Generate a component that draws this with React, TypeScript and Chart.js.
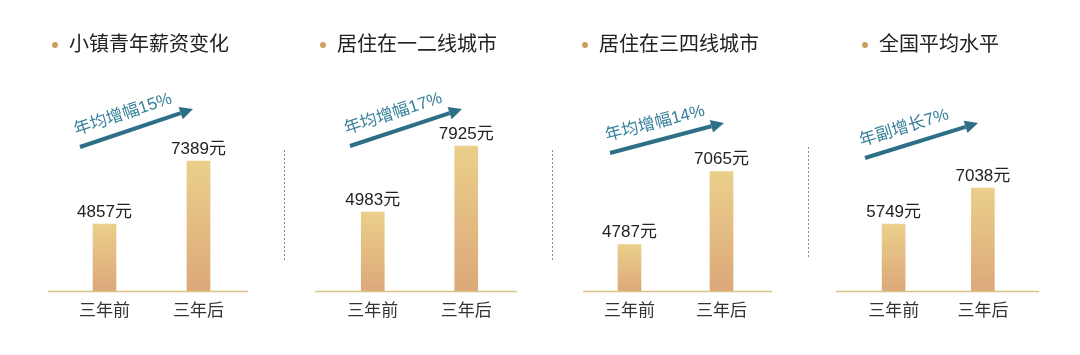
import { useEffect, useRef } from "react";
import { Chart, registerables } from "chart.js";

Chart.register(...registerables);

// ---------- data ----------
const categories = ["三年前", "三年后"];
const panelTitles = ["小镇青年薪资变化", "居住在一二线城市", "居住在三四线城市", "全国平均水平"];
const growthLabels = ["年均增幅15%", "年均增幅17%", "年均增幅14%", "年副增长7%"];
const townSalary = [4857, 7389];
const tier12Salary = [4983, 7925];
const tier34Salary = [4787, 7065];
const nationalSalary = [5749, 7038];
const valueUnit = "元";
const yMins = [2164, 1462, 3336, 3350];
const yMaxs = [9840, 9976, 9296, 10189];

const seriesList = [townSalary, tier12Salary, tier34Salary, nationalSalary];

// ---------- layout / style ----------
const W = 1080;
const H = 355;
const AREA_TOP = 100;
const AREA_BOTTOM = 291;
const FONT = '"Liberation Sans", "Noto Sans CJK SC", sans-serif';

type PanelLayout = {
  areaL: number;
  areaR: number;
  baseL: number;
  baseR: number;
  bulletX: number;
  titleX: number;
  arrow: [number, number, number, number];
  sep?: [number, number, number];
};

const layouts: PanelLayout[] = [
  { areaL: 57.5, areaR: 245.5, baseL: 48, baseR: 248, bulletX: 55, titleX: 69, arrow: [80, 147, 193, 109], sep: [284, 150, 262] },
  { areaL: 326, areaR: 513, baseL: 315, baseR: 517, bulletX: 323, titleX: 337, arrow: [350, 146, 462, 109], sep: [552, 150, 260] },
  { areaL: 583.5, areaR: 767.5, baseL: 583, baseR: 772, bulletX: 585, titleX: 599, arrow: [610, 153, 724, 123], sep: [808, 147, 257] },
  { areaL: 849, areaR: 1027.5, baseL: 836, baseR: 1039, bulletX: 865, titleX: 879, arrow: [865, 158, 978, 123] },
];

const BAR_TOP_COLOR = "rgb(235,207,138)";
const BAR_BOTTOM_COLOR = "rgb(220,168,122)";
const BASELINE_COLOR = "#d9c283";
const BULLET_COLOR = "#caa060";
const ARROW_COLOR = "#2d6f86";
const ARROW_TEXT_COLOR = "#37809a";
const TEXT_COLOR = "#222222";

function makeDecorPlugin(i: number) {
  return {
    id: "decor" + i,
    afterDraw(chart: any) {
      const ctx: CanvasRenderingContext2D = chart.ctx;
      const L = layouts[i];
      const xs = chart.scales.x;
      const ys = chart.scales.y;
      const data = seriesList[i];
      ctx.save();

      // baseline
      ctx.strokeStyle = BASELINE_COLOR;
      ctx.lineWidth = 1.5;
      ctx.beginPath();
      ctx.moveTo(L.baseL, AREA_BOTTOM + 0.5);
      ctx.lineTo(L.baseR, AREA_BOTTOM + 0.5);
      ctx.stroke();

      // value labels + category labels
      ctx.fillStyle = TEXT_COLOR;
      ctx.textAlign = "center";
      ctx.textBaseline = "middle";
      ctx.font = `17px ${FONT}`;
      data.forEach((v, k) => {
        const x = xs.getPixelForValue(k);
        const y = ys.getPixelForValue(v);
        ctx.fillText(`${v}${valueUnit}`, x, y - 12);
      });
      ctx.fillStyle = "#333333";
      categories.forEach((c, k) => {
        const x = xs.getPixelForValue(k);
        ctx.fillText(c, x, AREA_BOTTOM + 20);
      });

      // title with bullet
      ctx.fillStyle = BULLET_COLOR;
      ctx.beginPath();
      ctx.arc(L.bulletX, 45, 3, 0, Math.PI * 2);
      ctx.fill();
      ctx.fillStyle = TEXT_COLOR;
      ctx.textAlign = "left";
      ctx.font = `20px ${FONT}`;
      ctx.fillText(panelTitles[i], L.titleX, 45);

      // arrow
      const [x1, y1, x2, y2] = L.arrow;
      const dx = x2 - x1;
      const dy = y2 - y1;
      const len = Math.hypot(dx, dy);
      const ux = dx / len;
      const uy = dy / len;
      const head = 13;
      const hw = 6.5;
      ctx.strokeStyle = ARROW_COLOR;
      ctx.fillStyle = ARROW_COLOR;
      ctx.lineWidth = 4;
      ctx.beginPath();
      ctx.moveTo(x1, y1);
      ctx.lineTo(x2 - ux * head, y2 - uy * head);
      ctx.stroke();
      ctx.beginPath();
      ctx.moveTo(x2, y2);
      ctx.lineTo(x2 - ux * head - uy * hw, y2 - uy * head + ux * hw);
      ctx.lineTo(x2 - ux * head + uy * hw, y2 - uy * head - ux * hw);
      ctx.closePath();
      ctx.fill();

      // growth label along the arrow
      const nx = uy;
      const ny = -ux;
      const tx = x1 + nx * 17;
      const ty = y1 + ny * 17;
      ctx.translate(tx, ty);
      ctx.rotate(Math.atan2(dy, dx));
      ctx.fillStyle = ARROW_TEXT_COLOR;
      ctx.font = `17px ${FONT}`;
      ctx.textAlign = "left";
      ctx.textBaseline = "middle";
      ctx.fillText(growthLabels[i], 0, 0);
      ctx.setTransform(1, 0, 0, 1, 0, 0);

      // dashed separator
      if (L.sep) {
        const [sx, sy1, sy2] = L.sep;
        ctx.strokeStyle = "#8a8a8a";
        ctx.lineWidth = 1;
        ctx.setLineDash([2, 2]);
        ctx.beginPath();
        ctx.moveTo(sx + 0.5, sy1);
        ctx.lineTo(sx + 0.5, sy2);
        ctx.stroke();
        ctx.setLineDash([]);
      }
      ctx.restore();
    },
  };
}

function PanelChart({ i }: { i: number }) {
  const ref = useRef<HTMLCanvasElement | null>(null);
  useEffect(() => {
    if (!ref.current) return;
    const L = layouts[i];
    const chart = new Chart(ref.current, {
      type: "bar",
      data: {
        labels: categories,
        datasets: [
          {
            data: seriesList[i],
            barThickness: 23,
            borderWidth: 0,
            backgroundColor: (c: any) => {
              const ch = c.chart;
              const area = ch.chartArea;
              if (!area || c.raw === undefined) return BAR_BOTTOM_COLOR;
              const top = ch.scales.y.getPixelForValue(c.raw);
              const g = ch.ctx.createLinearGradient(0, top, 0, area.bottom);
              g.addColorStop(0, BAR_TOP_COLOR);
              g.addColorStop(1, BAR_BOTTOM_COLOR);
              return g;
            },
          } as any,
        ],
      },
      options: {
        responsive: false,
        animation: false,
        layout: {
          padding: { left: L.areaL, right: W - L.areaR, top: AREA_TOP, bottom: H - AREA_BOTTOM },
        },
        plugins: { legend: { display: false }, tooltip: { enabled: false } },
        scales: {
          x: { display: false },
          y: { display: false, min: yMins[i], max: yMaxs[i] },
        },
      },
      plugins: [makeDecorPlugin(i)],
    });
    return () => chart.destroy();
  }, [i]);
  return (
    <canvas
      ref={ref}
      width={W}
      height={H}
      style={{ position: "absolute", left: 0, top: 0, width: W, height: H }}
    />
  );
}

export default function App() {
  return (
    <div style={{ position: "fixed", left: 0, top: 0, width: W, height: H, background: "#ffffff", overflow: "hidden" }}>
      {layouts.map((_, i) => (
        <PanelChart key={i} i={i} />
      ))}
    </div>
  );
}
